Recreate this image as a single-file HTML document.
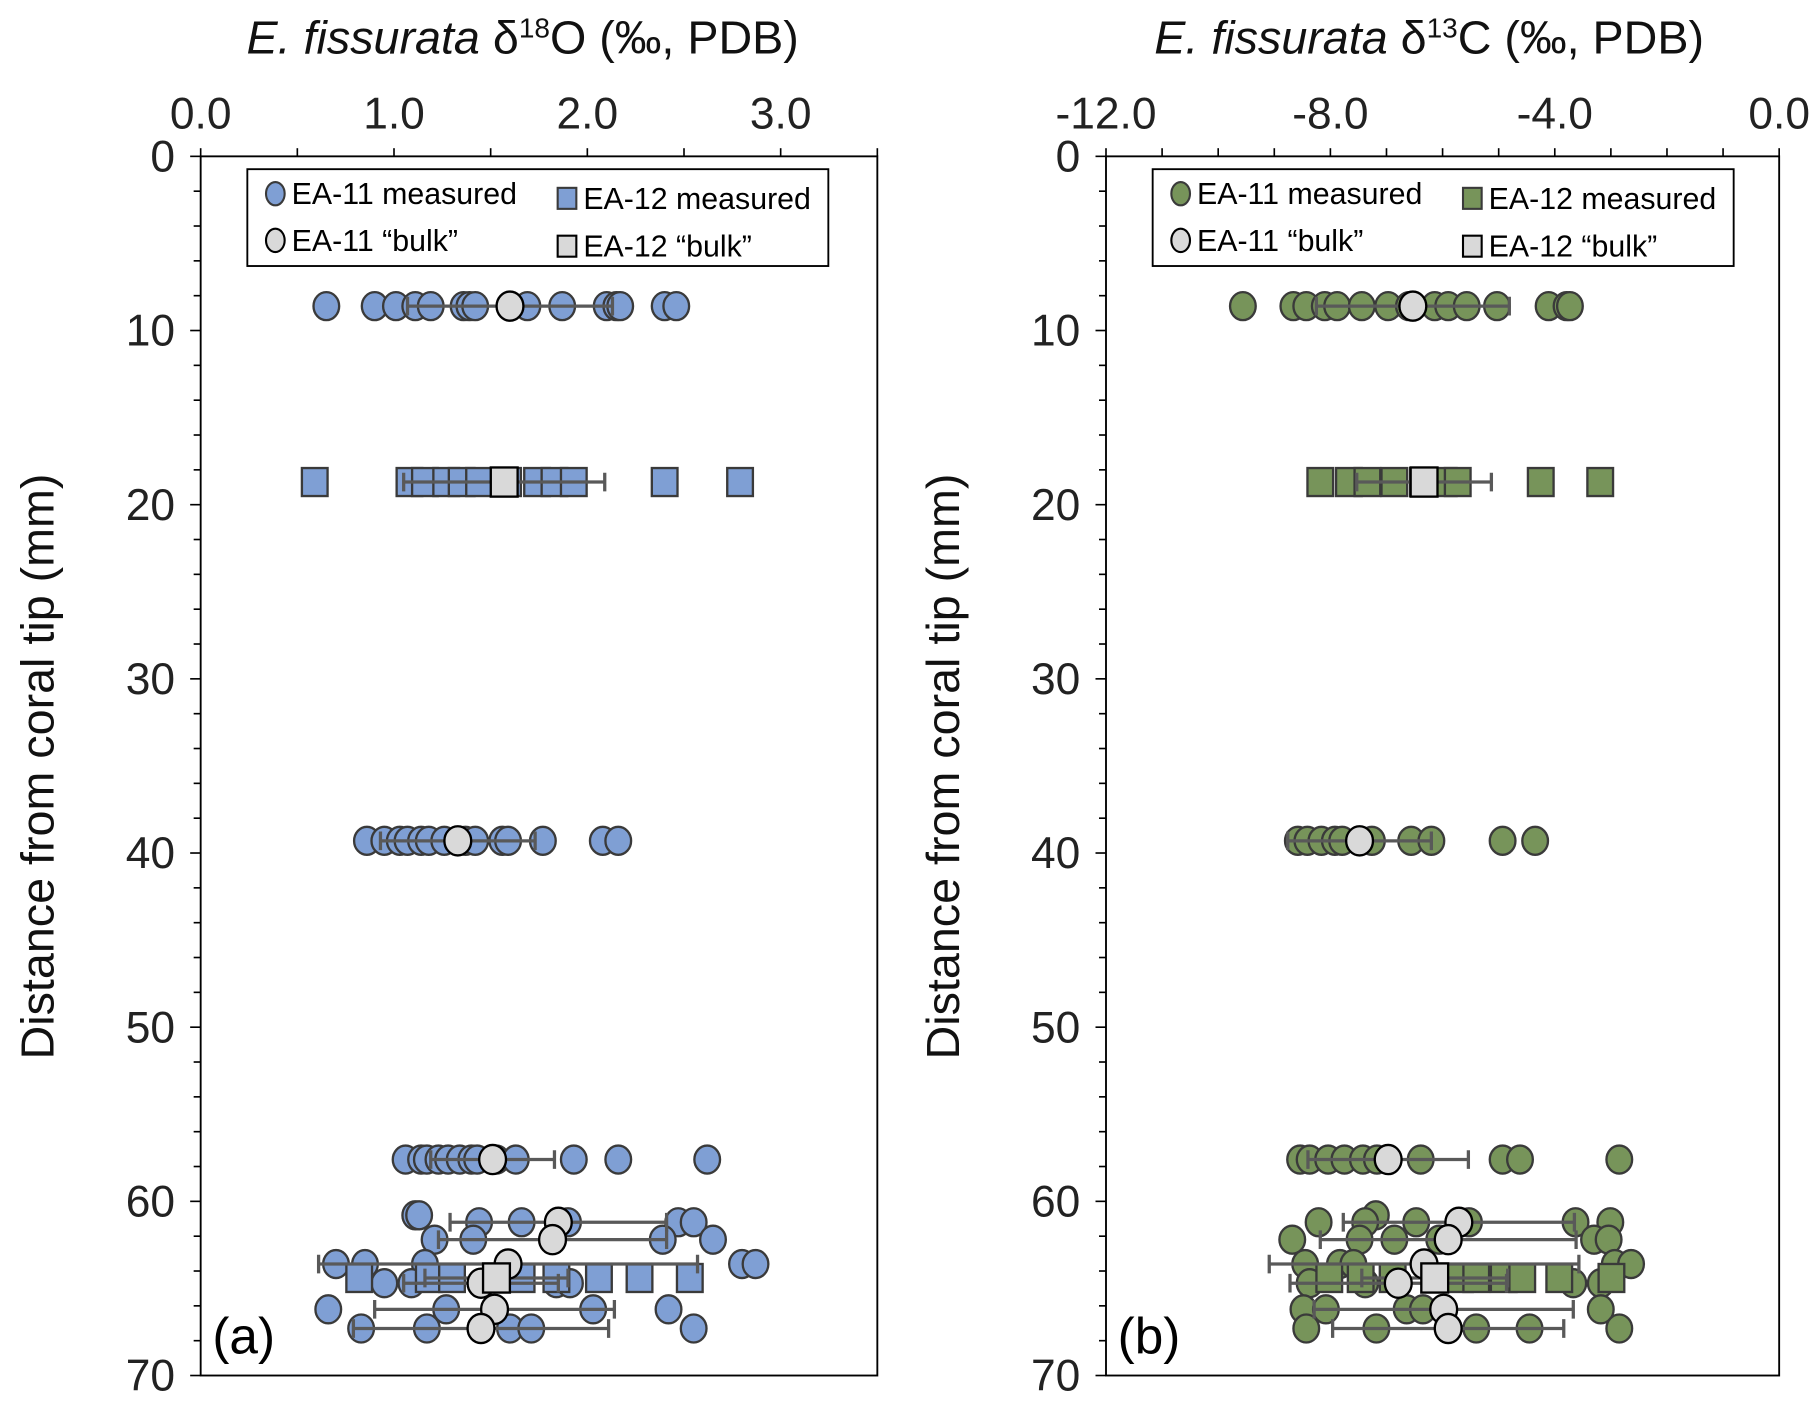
<!DOCTYPE html>
<html><head><meta charset="utf-8"><style>
html,body{margin:0;padding:0;background:#fff;}
svg{display:block;font-family:"Liberation Sans",Arial,sans-serif;}
</style></head><body>
<svg id="fig" width="1820" height="1404" viewBox="0 0 1560 1203.4" xmlns="http://www.w3.org/2000/svg"></svg>
<script>
// ---- Panel (a) δ18O data ----
const o18_ea11_depths = [8.6, 39.3, 57.6, 60.8, 61.2, 62.2, 63.6, 64.7, 66.2, 67.3];
const o18_ea11_values = [
  [0.65,0.90,1.01,1.11,1.19,1.36,1.39,1.42,1.69,1.87,2.10,2.15,2.17,2.40,2.46],
  [0.86,0.95,1.03,1.07,1.14,1.18,1.26,1.37,1.42,1.56,1.59,1.77,2.08,2.16],
  [1.06,1.14,1.17,1.23,1.28,1.34,1.40,1.43,1.53,1.63,1.93,2.16,2.62],
  [1.11,1.13],
  [1.44,1.66,1.90,2.47,2.55],
  [1.21,1.41,2.39,2.65],
  [0.70,0.85,1.16,2.80,2.87],
  [0.95,1.09,1.84,1.91],
  [0.66,1.27,2.03,2.42],
  [0.83,1.17,1.60,1.71,2.55]
];
const o18_ea11_bulk = [1.60, 1.33, 1.51, null, 1.85, 1.82, 1.59, 1.45, 1.52, 1.45];
const o18_ea11_err  = [0.53, 0.40, 0.32, null, 0.56, 0.59, 0.98, 0.40, 0.62, 0.66];
const o18_ea12_depths = [18.7, 64.4];
const o18_ea12_values = [
  [0.59,1.08,1.16,1.27,1.35,1.44,1.59,1.74,1.83,1.93,2.40,2.79],
  [0.82,1.18,1.30,1.66,1.84,2.06,2.27,2.53]
];
const o18_ea12_bulk = [1.57, 1.53];
const o18_ea12_err  = [0.52, 0.37];
const o18_ticks = [0, 1, 2, 3];
const o18_tick_labels = ["0.0","1.0","2.0","3.0"];

// ---- Panel (b) δ13C data ----
const c13_ea11_depths = [8.6, 39.3, 57.6, 60.8, 61.2, 62.2, 63.6, 64.7, 66.2, 67.3];
const c13_ea11_values = [
  [-9.56,-8.66,-8.43,-8.10,-7.88,-7.44,-6.97,-6.60,-6.14,-5.90,-5.57,-5.03,-4.11,-3.79,-3.73],
  [-8.58,-8.41,-8.16,-7.92,-7.79,-7.26,-6.56,-6.20,-4.93,-4.35],
  [-8.54,-8.37,-8.04,-7.75,-7.42,-7.17,-6.39,-4.93,-4.62,-2.85],
  [-7.19],
  [-8.21,-7.38,-6.47,-5.53,-3.63,-3.01],
  [-8.68,-7.48,-6.86,-6.06,-3.30,-3.04],
  [-8.45,-7.83,-7.59,-2.93,-2.64],
  [-8.37,-7.38,-3.67,-3.18],
  [-8.48,-8.08,-6.64,-6.35,-3.18],
  [-8.43,-7.18,-5.40,-4.45,-2.85]
];
const c13_ea11_bulk = [-6.53, -7.48, -6.97, null, -5.71, -5.90, -6.33, -6.79, -5.98, -5.90];
const c13_ea11_err  = [1.72, 1.28, 1.43, null, 2.06, 2.28, 2.76, 1.93, 2.31, 2.06];
const c13_ea12_depths = [18.7, 64.4];
const c13_ea12_values = [
  [-8.18,-7.67,-7.34,-6.86,-6.35,-5.98,-5.73,-4.25,-3.19],
  [-8.02,-7.46,-6.89,-5.69,-5.40,-4.91,-4.58,-3.92,-2.99]
];
const c13_ea12_bulk = [-6.33, -6.14];
const c13_ea12_err  = [1.20, 1.30];
const c13_ticks = [-12, -8, -4, 0];
const c13_tick_labels = ["-12.0","-8.0","-4.0","0.0"];

const depth_ticks = [0,10,20,30,40,50,60,70];

const NS = "http://www.w3.org/2000/svg";
const svg = document.getElementById('fig');
function mk(tag, attrs, parent){
  const e = document.createElementNS(NS, tag);
  for (const k in attrs) e.setAttribute(k, attrs[k]);
  (parent||svg).appendChild(e);
  return e;
}

function panel(cfg){
  const g = mk('g', {});
  
  
  const L=cfg.left, R=cfg.right, T=134, B=1179;
  const sx = v => L + (v - cfg.xmin)/(cfg.xmax - cfg.xmin)*(R-L);
  const sy = d => T + d/70*(B-T);
  const fr = mk('rect',{x:L,y:T,width:R-L,height:B-T,fill:'none',stroke:'#000','stroke-width':1.6},g);
  
  
  for (let v=cfg.xmin; v<=cfg.xmax+1e-9; v+=cfg.minor){
    mk('line',{x1:sx(v),x2:sx(v),y1:T,y2:T-7,stroke:'#000','stroke-width':1.4},g);
  }
  cfg.ticks.forEach((v,i)=>{
    const t = mk('text',{x:sx(v),y:110,'text-anchor':'middle','font-size':38,fill:'#222'},g);
    t.textContent = cfg.labels[i];
    
    
  });
  for (let d=0; d<=70; d+=2){
    mk('line',{x1:L,x2:L-(d%10===0?9:6),y1:sy(d),y2:sy(d),stroke:'#000','stroke-width':1.4},g);
  }
  depth_ticks.forEach(d=>{
    const t = mk('text',{x:L-22,y:sy(d)+13,'text-anchor':'end','font-size':38,fill:'#222'},g);
    t.textContent = d;
    
    
  });
  const tt = mk('text',{x:cfg.titleX,y:46,'text-anchor':'middle','font-size':40,fill:'#111'},g);
  
  
  tt.innerHTML = '<tspan font-style="italic">E. fissurata</tspan> δ<tspan font-size="24" dy="-14">'+cfg.iso+'</tspan><tspan dy="14">'+cfg.el+' (‰, PDB)</tspan>';
  const yt = mk('text',{x:0,y:0,'text-anchor':'middle','font-size':40,fill:'#111',transform:'translate('+(L-126)+','+657+') rotate(-90)'},g);
  yt.textContent = 'Distance from coral tip (mm)';
  
  
  const pl = mk('text',{x:L+10,y:1160,'font-size':44,fill:'#000'},g);
  pl.textContent = cfg.tag;
  
  

  const fill = cfg.fill;
  cfg.d11.forEach((d,i)=>{
    cfg.v11[i].forEach(v=>{
      const c = mk('ellipse',{cx:sx(v),cy:sy(d),rx:11,ry:12,fill:fill,stroke:'#3a3a3a','stroke-width':2},g);
      
      
    });
  });
  cfg.d12.forEach((d,i)=>{
    cfg.v12[i].forEach(v=>{
      const s = mk('rect',{x:sx(v)-11,y:sy(d)-12,width:22,height:24,fill:fill,stroke:'#3a3a3a','stroke-width':2},g);
      
      
    });
  });
  function errbar(v,e,d){
    const y=sy(d), x1=sx(v-e), x2=sx(v+e);
    const eb = mk('path',{d:'M'+x1+' '+y+'H'+x2+'M'+x1+' '+(y-8)+'V'+(y+8)+'M'+x2+' '+(y-8)+'V'+(y+8),stroke:'#595959','stroke-width':2.8,fill:'none'},g);
    
    
  }
  cfg.d11.forEach((d,i)=>{ if(cfg.b11[i]!==null) errbar(cfg.b11[i],cfg.e11[i],d); });
  cfg.d12.forEach((d,i)=>{ errbar(cfg.b12[i],cfg.e12[i],d); });
  cfg.d11.forEach((d,i)=>{
    if(cfg.b11[i]===null) return;
    const c = mk('ellipse',{cx:sx(cfg.b11[i]),cy:sy(d),rx:11.5,ry:12.5,fill:'#d9d9d9',stroke:'#000','stroke-width':2},g);
    
    
  });
  cfg.d12.forEach((d,i)=>{
    const s = mk('rect',{x:sx(cfg.b12[i])-11.5,y:sy(d)-12.5,width:23,height:25,fill:'#d9d9d9',stroke:'#000','stroke-width':2},g);
    
    
  });

  const lg = mk('g',{},g);
  
  
  const lx = cfg.legX;
  mk('rect',{x:lx,y:145,width:498,height:83,fill:'#fff',stroke:'#000','stroke-width':1.6},lg);
  const items = [
    ['c',fill,'#3a3a3a',lx+24,166,'EA-11 measured'],
    ['s',fill,'#3a3a3a',lx+274,170,'EA-12 measured'],
    ['c','#d9d9d9','#000',lx+24,206,'EA-11 \u201cbulk\u201d'],
    ['s','#d9d9d9','#000',lx+274,211,'EA-12 \u201cbulk\u201d']
  ];
  items.forEach(it=>{
    const e = mk('g',{},lg);
    
    
    if(it[0]==='c') mk('ellipse',{cx:it[3],cy:it[4],rx:8,ry:10,fill:it[1],stroke:it[2],'stroke-width':1.8},e);
    else mk('rect',{x:it[3]-8,y:it[4]-9,width:16,height:18,fill:it[1],stroke:it[2],'stroke-width':1.8},e);
    const t = mk('text',{x:it[3]+14,y:it[4]+9,'font-size':26,fill:'#000'},e);
    t.textContent = it[5];
  });
}

panel({name:'panel-a-d18o',left:172,right:752,xmin:0,xmax:3.5,minor:0.5,ticks:o18_ticks,labels:o18_tick_labels,
  titleX:448,iso:'18',el:'O',tag:'(a)',fill:'#7f9fd4',legX:212,
  d11:o18_ea11_depths,v11:o18_ea11_values,b11:o18_ea11_bulk,e11:o18_ea11_err,
  d12:o18_ea12_depths,v12:o18_ea12_values,b12:o18_ea12_bulk,e12:o18_ea12_err});
panel({name:'panel-b-d13c',left:948,right:1525,xmin:-12,xmax:0,minor:1,ticks:c13_ticks,labels:c13_tick_labels,
  titleX:1225,iso:'13',el:'C',tag:'(b)',fill:'#77945a',legX:988,
  d11:c13_ea11_depths,v11:c13_ea11_values,b11:c13_ea11_bulk,e11:c13_ea11_err,
  d12:c13_ea12_depths,v12:c13_ea12_values,b12:c13_ea12_bulk,e12:c13_ea12_err});
</script>
</body></html>
